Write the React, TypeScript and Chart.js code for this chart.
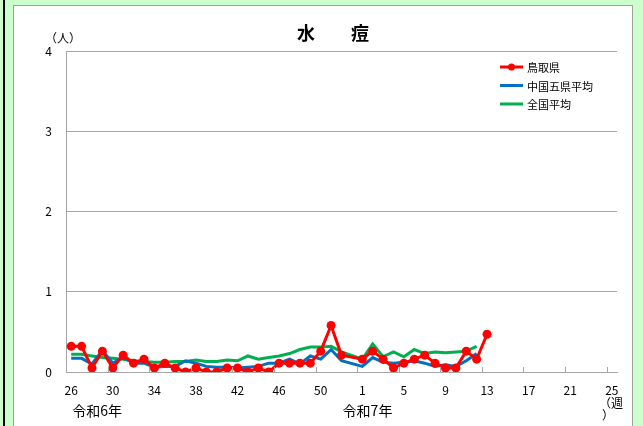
import React, { useEffect, useRef } from "react";
import { Chart, registerables } from "chart.js";

Chart.register(...registerables);

const weeks: string[] = [
  "26","27","28","29","30","31","32","33","34","35","36","37","38","39","40","41","42","43","44","45","46","47","48","49","50","51","52","53",
  "1","2","3","4","5","6","7","8","9","10","11","12","13","14","15","16","17","18","19","20","21","22","23","24","25",
];

const tottori: (number | null)[] = [
  0.32, 0.32, 0.05, 0.26, 0.05, 0.21, 0.11, 0.16, 0.05, 0.11, 0.05, 0, 0.05, 0, 0, 0.05, 0.05, 0, 0.05, 0, 0.11, 0.11, 0.11, 0.11, 0.26, 0.58, 0.21, null,
  0.16, 0.26, 0.16, 0.05, 0.11, 0.16, 0.21, 0.11, 0.05, 0.05, 0.26, 0.16, 0.47,
];

const chugoku: (number | null)[] = [
  0.17, 0.17, 0.1, 0.27, 0.11, 0.18, 0.11, 0.11, 0.06, 0.07, 0.07, 0.14, 0.11, 0.07, 0.06, 0.06, 0.05, 0.06, 0.07, 0.11, 0.11, 0.16, 0.1, 0.2, 0.16, 0.28, 0.14, null,
  0.07, 0.18, 0.12, 0.11, 0.12, 0.14, 0.11, 0.07, 0.09, 0.07, 0.14, 0.23,
];

const national: (number | null)[] = [
  0.22, 0.22, 0.2, 0.18, 0.17, 0.16, 0.14, 0.13, 0.12, 0.12, 0.13, 0.13, 0.15, 0.13, 0.13, 0.15, 0.14, 0.2, 0.16, 0.18, 0.2, 0.23, 0.28, 0.31, 0.31, 0.32, 0.25, null,
  0.16, 0.35, 0.19, 0.25, 0.19, 0.28, 0.23, 0.25, 0.24, 0.25, 0.26, 0.32,
];

const seriesNames = ["鳥取県", "中国五県平均", "全国平均"];
const seriesColors = ["#ff0000", "#0070c0", "#00b050"];
const yTicks = [0, 1, 2, 3, 4];

const FONT = "'Noto Sans CJK JP', 'Noto Sans', sans-serif";

const overlayPlugin = {
  id: "overlay",
  afterDraw(chart: any) {
    const ctx = chart.ctx;
    const x = chart.scales.x;
    const area = chart.chartArea;
    ctx.save();
    // inward tick marks at category boundaries every 4 weeks
    ctx.strokeStyle = "#a6a6a6";
    ctx.lineWidth = 1;
    const half = (x.getPixelForValue(1) - x.getPixelForValue(0)) / 2;
    for (let i = 0; i < weeks.length; i += 4) {
      const px = Math.round(x.getPixelForValue(i) - half) + 0.5;
      ctx.beginPath();
      ctx.moveTo(px, area.bottom);
      ctx.lineTo(px, area.bottom - 5);
      ctx.stroke();
    }
    // title
    ctx.fillStyle = "#000";
    ctx.textAlign = "center";
    ctx.textBaseline = "middle";
    ctx.font = `bold 18px ${FONT}`;
    ctx.fillText("水　　痘", 333, 33);
    // unit
    ctx.font = `12px ${FONT}`;
    ctx.fillText("（人）", 63, 38);
    // year labels
    ctx.font = `14px ${FONT}`;
    ctx.fillText("令和6年", x.getPixelForValue(2.5), 411);
    ctx.fillText("令和7年", x.getPixelForValue(28.5), 411);
    // week unit
    ctx.font = `12px ${FONT}`;
    ctx.fillText("（週", 611, 403);
    ctx.fillText("）", 608, 415);
    // legend
    ctx.font = `11px ${FONT}`;
    ctx.textAlign = "left";
    for (let i = 0; i < seriesNames.length; i++) {
      const ly = 67 + i * 18.5;
      ctx.strokeStyle = seriesColors[i];
      ctx.lineWidth = 3;
      ctx.beginPath();
      ctx.moveTo(500, ly);
      ctx.lineTo(523, ly);
      ctx.stroke();
      if (i === 0) {
        ctx.fillStyle = seriesColors[i];
        ctx.beginPath();
        ctx.arc(511.5, ly, 3.5, 0, Math.PI * 2);
        ctx.fill();
      }
      ctx.fillStyle = "#000";
      ctx.fillText(seriesNames[i], 527, ly + 1);
    }
    ctx.restore();
  },
};

export default function App() {
  const ref = useRef<HTMLCanvasElement>(null);
  useEffect(() => {
    if (!ref.current) return;
    const chart = new Chart(ref.current, {
      type: "line",
      data: {
        labels: weeks,
        datasets: [
          {
            label: seriesNames[0],
            data: tottori,
            borderColor: seriesColors[0],
            backgroundColor: seriesColors[0],
            borderWidth: 3,
            pointRadius: 4.5,
            pointHoverRadius: 4.5,
            pointBorderWidth: 0,
            spanGaps: true,
            tension: 0,
          },
          {
            label: seriesNames[1],
            data: chugoku,
            borderColor: seriesColors[1],
            backgroundColor: seriesColors[1],
            borderWidth: 3,
            pointRadius: 0,
            spanGaps: true,
            tension: 0,
          },
          {
            label: seriesNames[2],
            data: national,
            borderColor: seriesColors[2],
            backgroundColor: seriesColors[2],
            borderWidth: 3,
            pointRadius: 0,
            spanGaps: true,
            tension: 0,
          },
        ],
      },
      options: {
        animation: false,
        responsive: false,
        devicePixelRatio: 1,
        layout: { padding: { left: 0, right: 26, top: 51, bottom: 0 } },
        plugins: { legend: { display: false }, tooltip: { enabled: false }, title: { display: false } },
        scales: {
          x: {
            type: "category",
            offset: true,
            grid: { display: false, drawTicks: false },
            border: { display: true, color: "#a6a6a6", width: 1 },
            ticks: {
              autoSkip: false,
              maxRotation: 0,
              minRotation: 0,
              padding: 11,
              color: "#000",
              font: { family: FONT, size: 12 },
              callback: (_v: any, i: number) => (i % 4 === 0 ? weeks[i] : ""),
            },
            afterFit: (axis: any) => {
              axis.height = 54;
            },
          },
          y: {
            min: 0,
            max: 4,
            afterBuildTicks: (axis: any) => {
              axis.ticks = yTicks.map((v) => ({ value: v }));
            },
            grid: { color: "#a6a6a6", drawTicks: false, lineWidth: 1 },
            border: { display: true, color: "#a6a6a6", width: 1 },
            ticks: {
              padding: 14,
              color: "#000",
              font: { family: FONT, size: 12 },
            },
            afterFit: (axis: any) => {
              axis.width = 66;
            },
          },
        },
      },
      plugins: [overlayPlugin],
    } as any);
    return () => chart.destroy();
  }, []);

  return (
    <div style={{ position: "fixed", left: 0, top: 0, width: 643, height: 426, background: "#ccffcc", overflow: "hidden" }}>
      <div style={{ position: "absolute", left: 3, top: 0, width: 2, height: 426, background: "#000" }} />
      <div
        style={{
          position: "absolute",
          left: 13,
          top: 5,
          width: 618,
          height: 440,
          background: "#fff",
          border: "1px solid #a0a0a0",
        }}
      />
      <canvas ref={ref} width={643} height={426} style={{ position: "absolute", left: 0, top: 0 }} />
    </div>
  );
}
